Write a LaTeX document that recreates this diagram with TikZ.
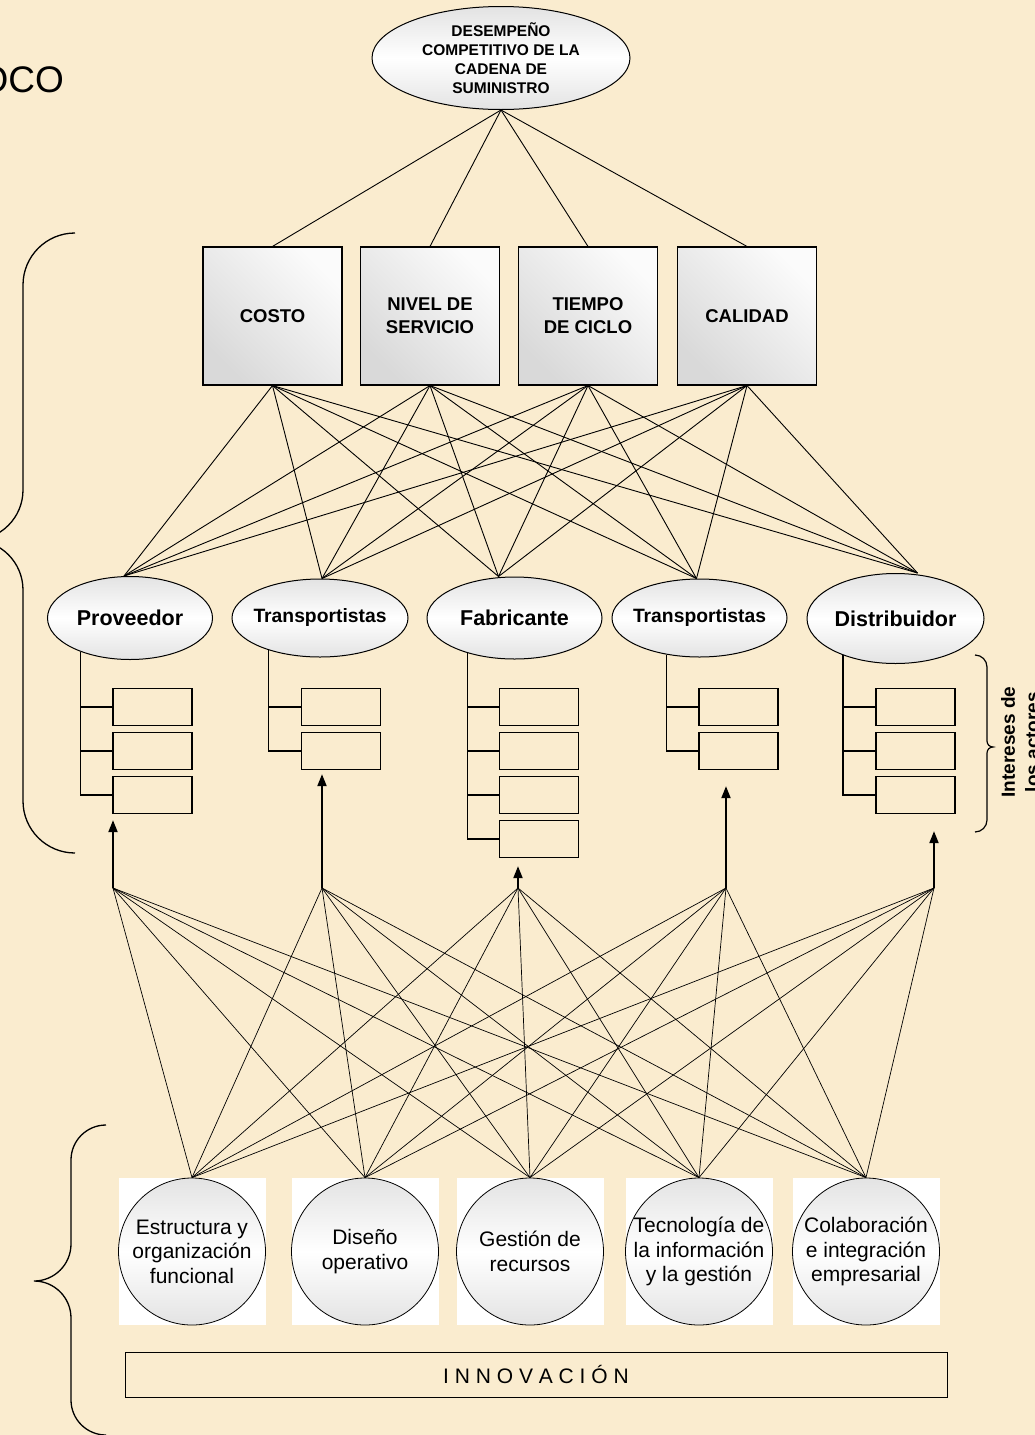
\documentclass[tikz,border=0pt]{standalone}
\usepackage{fontspec}
\setmainfont{Liberation Sans}
\usetikzlibrary{shapes.geometric}
\usetikzlibrary{arrows.meta}
\definecolor{parch}{RGB}{250,236,207}
\tikzset{
  gloss/.style={draw,top color=gray!22,bottom color=gray!22,middle color=white},
  goal/.style={ellipse,gloss,line width=1pt,minimum width=258pt,minimum height=103pt,inner sep=0pt,
    label={[align=center,font=\bfseries\fontsize{15.5}{19}\selectfont]center:#1}},
  crit/.style={draw,line width=1.1pt,left color=gray!30,right color=gray!3,shading angle=135,
    minimum width=139pt,minimum height=138pt,inner sep=0pt,align=center,
    font=\bfseries\fontsize{18.5}{23}\selectfont},
  actor/.style={ellipse,gloss,line width=1pt,inner sep=0pt,
    label={[font=\bfseries\fontsize{21.5}{24}\selectfont]center:#1}},
  slot/.style={draw,line width=1.3pt,minimum width=79pt,minimum height=37pt,inner sep=0pt},
  factor/.style={circle,gloss,line width=0.8pt,minimum size=147pt,inner sep=0pt,
    label={[align=center,font=\fontsize{21}{24.5}\selectfont]center:#1}},
  backing/.style={fill=white,minimum size=147pt,inner sep=0pt},
  net/.style={line width=0.9pt},
  thinnet/.style={line width=0.7pt},
  up/.style={line width=2pt,-{Triangle[length=12pt,width=9pt]}}
}
\begin{document}
\begin{tikzpicture}[x=1pt,y=-1pt]
  \fill[parch] (0,0) rectangle (1035,1435);
  \useasboundingbox (0,0) rectangle (1035,1435);

  \node[anchor=east,inner sep=0pt,font=\fontsize{37}{40}\selectfont] (ttl) at (64,80) {OCO};
  \node[goal={DESEMPEÑO\\COMPETITIVO DE LA\\CADENA DE\\SUMINISTRO}] (perf) at (501,58) {};

  \foreach \i/\x/\t in {1/272.5/COSTO, 2/430/{NIVEL DE\\SERVICIO}, 3/588/{TIEMPO\\DE CICLO}, 4/747/CALIDAD}
    \node[crit] (c\i) at (\x,316) {\t};

  \node[actor=Proveedor,minimum width=165pt,minimum height=83pt] (a1) at (130,618) {};
  \node[actor={\fontsize{19.3}{22}\selectfont Transportistas},minimum width=176pt,minimum height=78pt] (a2) at (320,618) {};
  \node[actor=Fabricante,minimum width=175pt,minimum height=82pt] (a3) at (514.5,618) {};
  \node[actor={\fontsize{19.3}{22}\selectfont Transportistas},minimum width=175pt,minimum height=78pt] (a4) at (699.5,618) {};
  \node[actor=Distribuidor,minimum width=177pt,minimum height=90pt] (a5) at (895.5,618.5) {};

  \foreach \g/\x/\n in {1/152.5/3, 2/341/2, 3/539/4, 4/738.5/2, 5/915.5/3}
    \foreach \k in {1,...,\n}
      \node[slot] (s\g-\k) at (\x,663+44*\k) {};

  \foreach \g/\x in {1/113, 2/322, 3/518, 4/726, 5/934}
    \coordinate (h\g) at (\x,888);

  \foreach \g/\ang/\n/\gap in {1/214/3/6, 2/212/2/4, 3/217/4/8, 4/228/2/16, 5/215/3/17} {
    \foreach \k in {1,...,\n}
      \draw[line width=1.2pt] (a\g.\ang) |- (s\g-\k.west);
    \draw[up,shorten >=\gap pt] (h\g) -- (h\g |- s\g-\n.south);
  }

  \foreach \k/\x/\t in {1/192/{Estructura y\\organización\\funcional}, 2/365/{Diseño\\operativo},
      3/530/{Gestión de\\recursos}, 4/699/{Tecnología de\\la información\\y la gestión},
      5/866/{Colaboración\\e integración\\empresarial}} {
    \node[backing] (w\k) at (\x,1251.5) {};
    \node[factor=\t] (f\k) at (\x,1251.5) {};
  }

  \node[draw,line width=1pt,minimum width=822pt,minimum height=45pt,inner sep=0pt,
    font=\fontsize{21}{24}\selectfont] (inno) at (536,1374.5) {I N N O V A C I Ó N};

  \node[rotate=90,align=center,font=\bfseries\fontsize{19}{24}\selectfont] (int) at (1020,742) {Intereses de\\los actores};

  \foreach \j/\dx in {1/-6, 2/2, 3/-16, 4/-3, 5/22}
    \coordinate (t\j) at ([xshift=\dx pt]a\j.north);

  \foreach \i in {1,...,4}
    \path[net] (perf.south) edge (c\i.north);
  \foreach \i in {1,...,4}
    \foreach \j in {1,...,5}
      \path[net] (c\i.south) edge (t\j);
  \foreach \g in {1,...,5}
    \foreach \k in {1,...,5}
      \path[thinnet] (h\g) edge (f\k.north);

  \draw[line width=1.3pt] (75,233) arc[start angle=-90,end angle=-180,radius=52] -- (23,490)
    arc[start angle=0,end angle=90,radius=50] arc[start angle=-90,end angle=0,radius=50] -- (23,801)
    arc[start angle=180,end angle=90,radius=52];
  \draw[line width=1.3pt] (106,1125) arc[start angle=-90,end angle=-180,radius=35] -- (71,1244)
    arc[start angle=0,end angle=90,radius=37] arc[start angle=-90,end angle=0,radius=37] -- (71,1400)
    arc[start angle=180,end angle=90,radius=35];
  \draw[line width=1.2pt] (975,655) arc[start angle=-90,end angle=0,radius=12] -- (987,741)
    arc[start angle=180,end angle=90,radius=6] arc[start angle=-90,end angle=-180,radius=6] -- (987,820)
    arc[start angle=0,end angle=90,radius=12];
\end{tikzpicture}
\end{document}
